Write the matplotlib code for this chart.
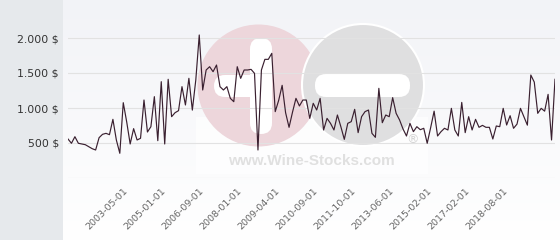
import numpy as np
import matplotlib.pyplot as plt
from matplotlib.patches import Circle, FancyBboxPatch, Rectangle

# ── Data ──────────────────────────────────────────────────────────────────────

prices = [
    557, 496, 590, 496, 486, 476, 448, 419, 400, 576, 624, 638, 619, 838, 543, 353,
    1076, 800, 486, 705, 543, 567, 1114, 657, 733, 1162, 533, 1376, 486, 1410, 876,
    933, 962, 1305, 1043, 1424,
    970, 1400, 2043, 1257, 1543, 1590, 1519, 1614, 1305, 1257, 1305, 1138, 1090,
    1590, 1424, 1543, 1543, 1552, 1495, 400, 1543, 1695, 1695, 1781, 948, 1110,
    1324, 933, 724, 940, 1138, 1029, 1114, 1114, 852, 1067, 971, 1138, 686, 852,
    781, 686, 900, 733, 552, 781, 805, 981, 648, 876, 948, 971, 638, 581, 1281,
    790, 900, 876, 1148, 924, 829, 700, 600, 781, 662, 733, 690, 710, 496,
    720,
    955, 600, 662, 710, 686, 995, 686, 600, 1080, 648, 876, 686, 838, 724, 752,
    724, 724, 557, 743, 733, 995, 757, 890, 710, 770, 995, 876, 755, 1471, 1370,
    924, 995, 955, 1195, 543, 1410,
]

tick_idx    = [16, 27, 38, 49, 60, 71, 82, 93, 104, 115, 126]
tick_labels = ["2003-05-01", "2005-01-01", "2006-09-01", "2008-01-01", "2009-04-01",
               "2010-09-01", "2011-10-01", "2013-06-01", "2015-02-01", "2017-02-01",
               "2018-08-01"]
y_ticks     = [0, 500, 1000, 1500, 2000]

W, H = 560, 240
fig = plt.figure(figsize=(W / 100, H / 100), dpi=100)


# ── Background + watermark, in pixel coordinates ──────────────────────────────

bg = fig.add_axes([0, 0, 1, 1], zorder=0)
top_col = np.array([242, 243, 247]) / 255
grad    = np.linspace(0, 1, 256)[:, None, None]
img     = top_col + (1 - top_col) * grad
bg.imshow(img, extent=[63, W, H, 0], aspect="auto", interpolation="bilinear")
bg.add_patch(Rectangle((0, 0), 63, H, color="#e6e9ec", lw=0))
bg.add_patch(Rectangle((196, 117), 232, 57, color="white", alpha=0.7, lw=0))

bg.add_patch(Circle((258.5, 85.5), 61, color="#edd6db", lw=0))
bg.add_patch(Circle((363, 85), 61, facecolor="#dfdfe0", edgecolor="white", lw=1.5))
bar = dict(boxstyle="round,pad=0,rounding_size=11", color="white", lw=0)
bg.add_patch(FancyBboxPatch((250, 38), 22, 96, **bar))
bg.add_patch(FancyBboxPatch((214, 75), 50, 22, **bar))
bg.add_patch(FancyBboxPatch((315, 74), 95, 23, **bar))
bg.text(311, 161, "www.Wine-Stocks.com", ha="center", va="center", fontsize=11,
        fontweight="bold", family="Liberation Sans", color="#e0e0e0")
bg.text(413, 140, "®", ha="center", va="center", fontsize=9, color="#d4d4d4")
bg.set_xlim(0, W)
bg.set_ylim(H, 0)
bg.axis("off")


# ── Price line ────────────────────────────────────────────────────────────────

ax = fig.add_axes([68 / W, (H - 178) / H, (555 - 68) / W, (178 - 3) / H], zorder=1)
ax.patch.set_alpha(0)
ax.plot(range(len(prices)), prices, color="#3a2030", linewidth=0.85)
ax.set_xlim(0, len(prices) - 1)
ax.set_ylim(0, 2500)

ax.set_yticks(y_ticks)
ax.set_yticklabels(["" if v == 0 else f"{v:,.0f}".replace(",", ".") + " $" for v in y_ticks])
ax.grid(axis="y", color="#e2e2e2", linewidth=0.8)
ax.tick_params(axis="y", length=0, pad=6.5, labelsize=7.8, labelcolor="#333333")

ax.set_xticks(tick_idx)
ax.set_xticklabels(tick_labels, rotation=45, ha="right", rotation_mode="anchor",
                   fontsize=6.8, color="#666666")
ax.tick_params(axis="x", length=0, pad=6)
for s in ax.spines.values():
    s.set_visible(False)

fig.savefig("out.png", dpi=100)
